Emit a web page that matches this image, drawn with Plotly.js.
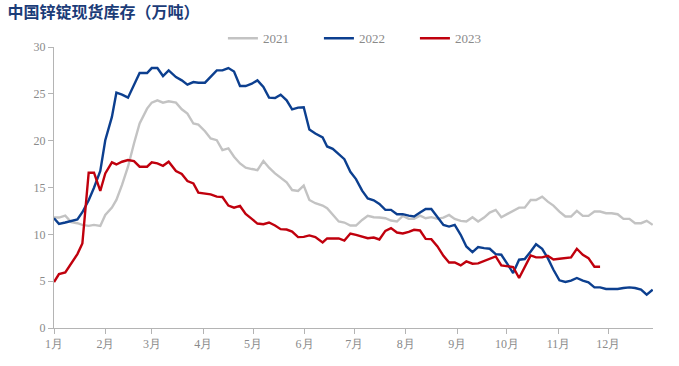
<!DOCTYPE html>
<html>
<head>
<meta charset="utf-8">
<script src="https://cdn.plot.ly/plotly-3.0.1.min.js"></script>
<style>
html,body{margin:0;padding:0;background:#fff;}
#chart{width:679px;height:366px;}
</style>
</head>
<body>
<div id="chart"></div>
<script>
// Report day (days since 1 Jan) for each twice-weekly inventory reading
const reportDay = [
  0, 3.0, 6.8, 10.4, 14.1, 17.1, 20.9, 24.1, 27.9, 30.9, 34.9, 37.6, 41.0, 44.6, 48.2, 51.6, 56.1, 58.9, 62.3, 65.7, 69.1,
  73.5, 77.0, 80.4, 84.0, 87.0, 91.0, 94.4, 98.1, 101.5, 105.1, 108.5, 112.1, 115.5, 119.2, 122.6, 126.2, 129.6, 133.2, 136.6, 140.2,
  143.5, 147.1, 150.5, 153.9, 157.5, 161.9, 164.6, 168.0, 171.6, 175.0, 178.6, 182.0, 185.7, 189.1, 192.7, 196.1, 199.7, 203.1, 206.7, 210.2, 213.8,
  217.0, 220.6, 224.0, 227.4, 231.1, 234.7, 238.1, 241.5, 245.1, 248.5, 252.2, 255.6, 259.2, 262.6, 266.2, 269.6, 273.3, 276.7, 280.3, 283.7, 287.3,
  290.5, 294.2, 297.6, 301.0, 304.6, 308.2, 311.6, 315.1, 318.7, 322.1, 325.7, 329.1, 332.7, 336.1, 339.7, 343.2, 346.8, 350.2, 353.8, 357.2, 360.8
];

const inv2021 = [
  11.79, 11.79, 12.00, 11.29, 11.19, 11.01, 10.90, 11.01, 10.90, 12.07, 12.85, 13.67, 15.27, 17.22, 19.70, 21.83, 23.42, 24.06, 24.31, 24.06, 24.20,
  24.06, 23.35, 22.89, 21.83, 21.72, 21.01, 20.23, 20.05, 18.99, 19.17, 18.28, 17.57, 17.11, 16.97, 16.86, 17.82, 17.11, 16.51, 16.05, 15.55,
  14.73, 14.63, 15.20, 13.67, 13.32, 13.07, 12.78, 12.07, 11.37, 11.26, 10.94, 10.94, 11.54, 11.97, 11.83, 11.79, 11.72, 11.47, 11.37, 11.97, 11.65,
  11.65, 12.00, 11.72, 11.83, 11.65, 11.79, 12.07, 11.65, 11.44, 11.37, 11.83, 11.37, 11.79, 12.32, 12.61, 11.83, 12.18, 12.54, 12.85, 12.85, 13.67,
  13.67, 14.02, 13.49, 13.07, 12.43, 11.90, 11.90, 12.50, 11.97, 11.97, 12.43, 12.43, 12.25, 12.25, 12.15, 11.65, 11.65, 11.19, 11.19, 11.44, 11.01
];

const inv2022 = [
  11.72, 11.12, 11.26, 11.40, 11.58, 12.36, 13.63, 14.98, 16.76, 20.05, 22.54, 25.12, 24.91, 24.59, 25.90, 27.22, 27.22, 27.75, 27.75, 26.90, 27.50,
  26.79, 26.44, 25.98, 26.26, 26.19, 26.19, 26.79, 27.50, 27.50, 27.75, 27.39, 25.83, 25.83, 26.08, 26.44, 25.73, 24.59, 24.56, 24.91, 24.31,
  23.35, 23.53, 23.56, 21.19, 20.76, 20.34, 19.38, 19.13, 18.56, 18.03, 16.68, 15.90, 14.66, 13.84, 13.63, 13.24, 12.61, 12.61, 12.15, 12.15, 12.00,
  11.90, 12.32, 12.71, 12.71, 11.79, 11.01, 10.83, 11.01, 9.95, 8.71, 8.10, 8.64, 8.53, 8.46, 7.89, 7.82, 6.83, 5.87, 7.29, 7.36, 8.17,
  8.95, 8.46, 7.46, 6.22, 5.09, 4.91, 5.05, 5.34, 5.05, 4.88, 4.34, 4.34, 4.17, 4.17, 4.17, 4.27, 4.34, 4.27, 4.10, 3.56, 4.10
];

const inv2023 = [
  4.91, 5.76, 5.94, 6.93, 7.89, 9.02, 16.58, 16.58, 14.63, 16.51, 17.68, 17.46, 17.75, 17.93, 17.82, 17.22, 17.22, 17.68, 17.57, 17.32, 17.75,
  16.76, 16.44, 15.69, 15.44, 14.45, 14.31, 14.27, 14.03, 13.99, 13.07, 12.85, 13.03, 12.18, 11.65, 11.15, 11.08, 11.26, 10.94, 10.55, 10.51,
  10.30, 9.70, 9.73, 9.88, 9.70, 9.13, 9.56, 9.56, 9.56, 9.34, 10.09, 9.95, 9.80, 9.59, 9.66, 9.45, 10.37, 10.66, 10.19, 10.09, 10.27,
  10.48, 10.41, 9.52, 9.49, 8.71, 7.71, 7.00, 7.00, 6.68, 7.11, 6.86, 6.90, 7.18, 7.39, 7.64, 6.68, 6.61, 6.51, 5.34, 6.58, 7.75,
  7.54, 7.54, 7.71, 7.32, 7.39, 7.46, 7.54, 8.46, 7.82, 7.46, 6.54, 6.54
];

const seriesNames = ['2021', '2022', '2023'];
const monthStartDay = [0, 31, 59, 90, 120, 151, 181, 212, 243, 273, 304, 334];
const monthLabels = ['1月','2月','3月','4月','5月','6月','7月','8月','9月','10月','11月','12月'];
const yTicks = [0, 5, 10, 15, 20, 25, 30];

const colors = ['#c3c3c3', '#0c3f8f', '#c0000d'];
const allValues = [inv2021, inv2022, inv2023];

const traces = allValues.map((vals, i) => ({
  type: 'scatter',
  mode: 'lines',
  name: seriesNames[i],
  x: reportDay.slice(0, vals.length),
  y: vals,
  line: {color: colors[i], width: 2.4},
  hoverinfo: 'x+y'
}));

const axisFont = {family: '"Liberation Serif", "Times New Roman", serif', size: 12, color: '#8a8a8a'};

const layout = {
  width: 679,
  height: 366,
  margin: {l: 54, r: 26, t: 47, b: 38},
  paper_bgcolor: '#ffffff',
  plot_bgcolor: '#ffffff',
  title: {
    text: '<b>中国锌锭现货库存（万吨）</b>',
    font: {family: '"Noto Sans CJK SC", sans-serif', size: 16, color: '#1b3c78'},
    x: 0.011, xanchor: 'left', xref: 'container',
    y: 0.967, yanchor: 'middle', yref: 'container'
  },
  showlegend: true,
  legend: {
    orientation: 'h',
    x: 0.282, xanchor: 'left',
    y: 1.031, yanchor: 'middle',
    font: {family: '"Liberation Serif", "Times New Roman", serif', size: 13, color: '#8a8a8a'},
    entrywidth: 51, entrywidthmode: 'pixels',
    bgcolor: 'rgba(0,0,0,0)'
  },
  xaxis: {
    range: [0, 361],
    tickmode: 'array',
    tickvals: monthStartDay,
    ticktext: monthLabels,
    ticks: 'outside', ticklen: 5, tickcolor: '#b4b4b4', tickwidth: 1,
    showline: true, linecolor: '#b4b4b4', linewidth: 1,
    showgrid: false, zeroline: false,
    tickfont: axisFont
  },
  yaxis: {
    range: [0, 30],
    tickmode: 'array',
    tickvals: yTicks,
    ticks: 'outside', ticklen: 5, tickcolor: '#b4b4b4', tickwidth: 1,
    showline: true, linecolor: '#b4b4b4', linewidth: 1,
    showgrid: false, zeroline: false,
    tickfont: axisFont
  }
};

Plotly.newPlot('chart', traces, layout, {displayModeBar: false, staticPlot: true});
</script>
</body>
</html>
